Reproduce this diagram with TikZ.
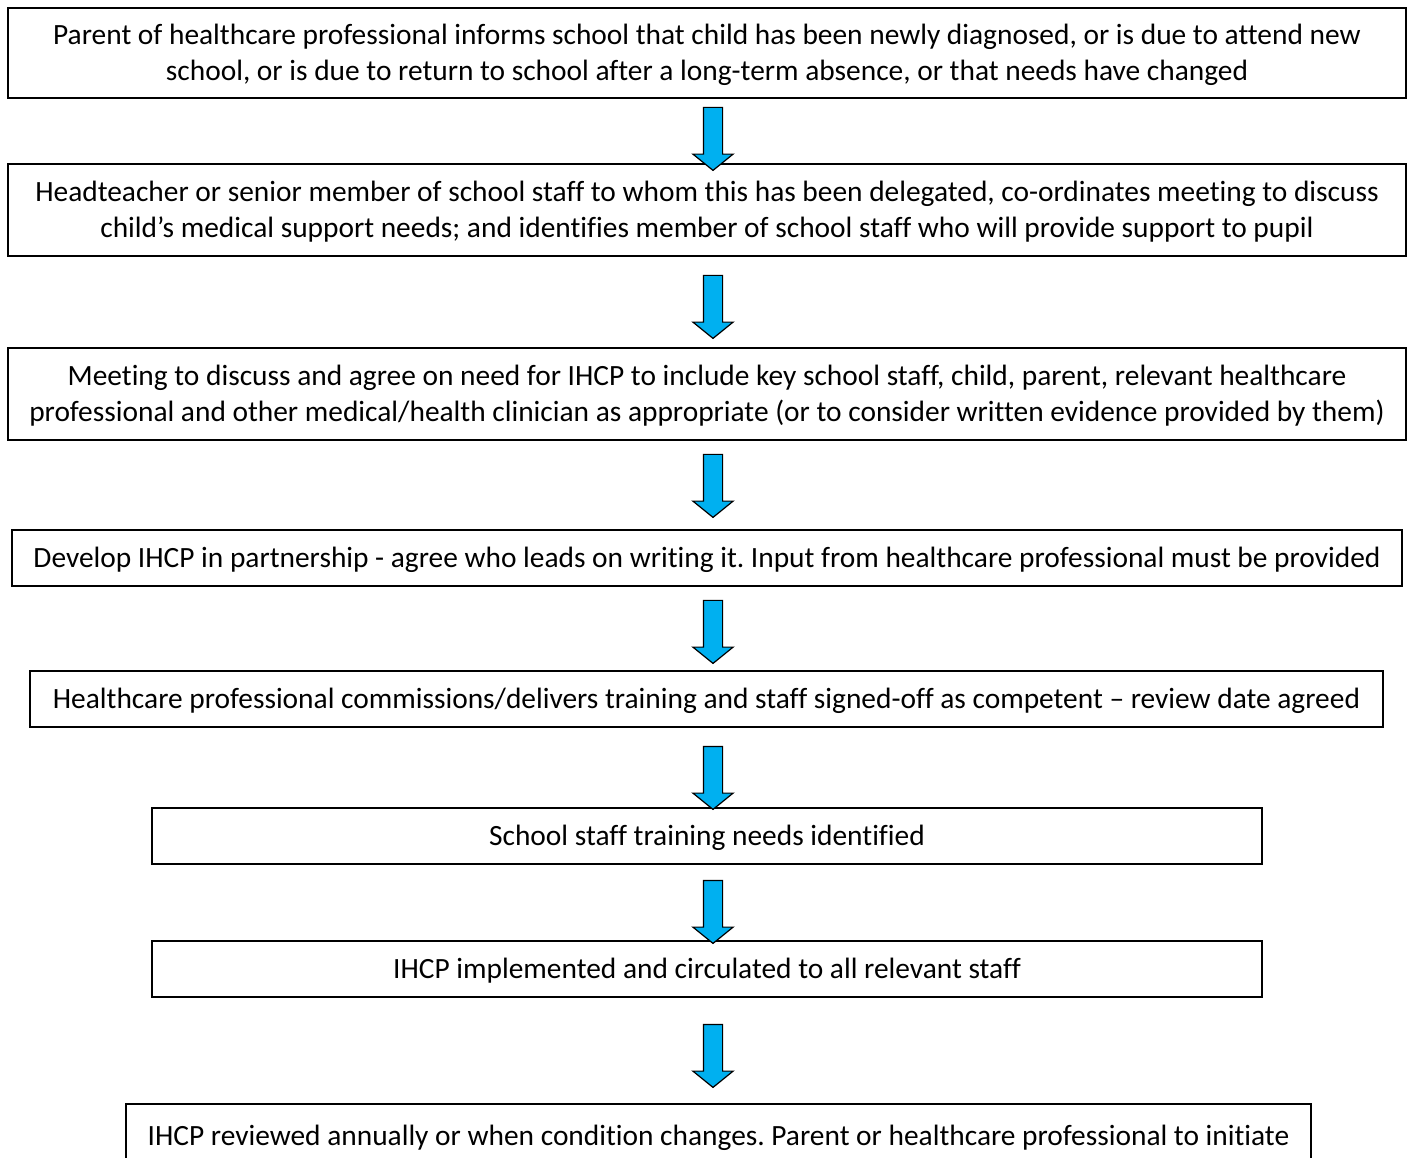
\documentclass[tikz,border=0pt]{standalone}
\usepackage{fontspec}
\setmainfont[Ligatures={NoCommon}]{Carlito}
\usetikzlibrary{shapes.arrows}
\definecolor{arrowblue}{HTML}{00B0F0}
\frenchspacing
\tikzset{
  stepbox/.style={draw, line width=1.6pt, align=center, inner sep=0pt,
    text depth=2pt, font=\fontsize{29.4}{36}\selectfont},
  blockarrow/.style={single arrow, draw, line width=1.2pt, fill=arrowblue,
    rotate=-90, minimum height=63pt, inner sep=9pt,
    single arrow head extend=10.5pt, single arrow tip angle=102}
}
\begin{document}
\begin{tikzpicture}[x=1pt, y=-1pt]
  \useasboundingbox (0,0) rectangle (1410,1157);
  \node[stepbox, minimum width=1398, minimum height=90] (b1) at (707,53)
    {Parent of healthcare professional informs school that child has been newly diagnosed, or is due to attend new\\
     school, or is due to return to school after a long-term absence, or that needs have changed};
  \node[stepbox, minimum width=1398, minimum height=92] (b2) at (707,210)
    {Headteacher or senior member of school staff to whom this has been delegated, co-ordinates meeting to discuss\\
     child’s medical support needs; and identifies member of school staff who will provide support to pupil};
  \node[stepbox, minimum width=1398, minimum height=92] (b3) at (707,394)
    {Meeting to discuss and agree on need for IHCP to include key school staff, child, parent, relevant healthcare\\
     professional and other medical/health clinician as appropriate (or to consider written evidence provided by them)};
  \node[stepbox, minimum width=1390, minimum height=56] (b4) at (707,558)
    {Develop IHCP in partnership - agree who leads on writing it. Input from healthcare professional must be provided};
  \node[stepbox, minimum width=1353, minimum height=56] (b5) at (706.5,699)
    {Healthcare professional commissions/delivers training and staff signed-off as competent – review date agreed};
  \node[stepbox, minimum width=1110, minimum height=56] (b6) at (707,836)
    {School staff training needs identified};
  \node[stepbox, minimum width=1110, minimum height=56] (b7) at (707,969)
    {IHCP implemented and circulated to all relevant staff};
  \node[stepbox, minimum width=1185, minimum height=64] (b8) at (718.5,1136)
    {IHCP reviewed annually or when condition changes. Parent or healthcare professional to initiate};
  \foreach \n/\y in {1/135,2/303,3/482,4/628,5/774,6/908,7/1052}
    \node[blockarrow] (arr\n) at (713,\y) {};
\end{tikzpicture}
\end{document}
